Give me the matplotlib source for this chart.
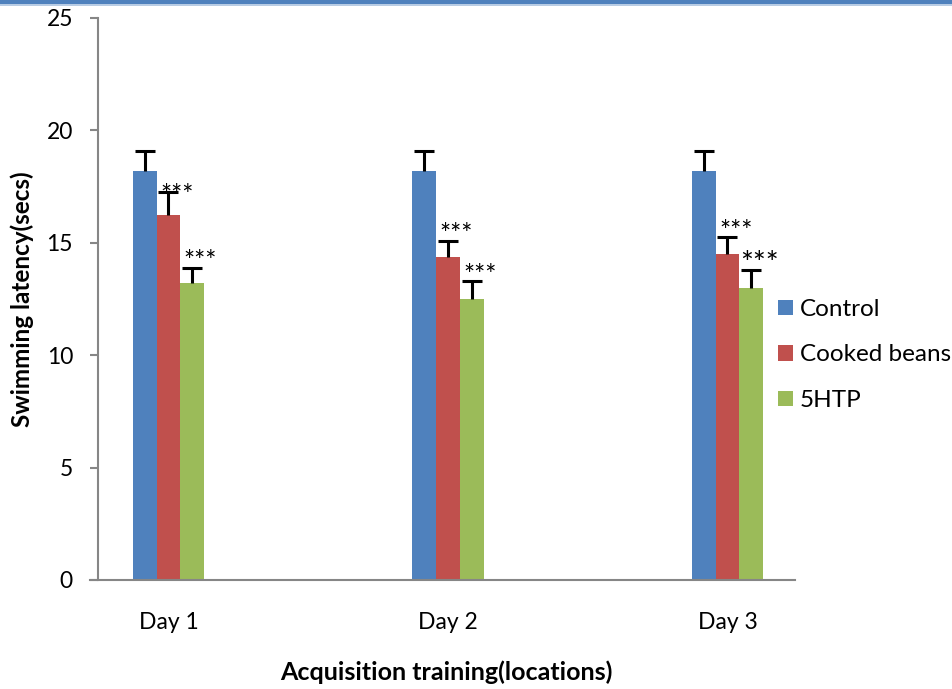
import numpy as np
import matplotlib.pyplot as plt
from matplotlib.patches import Rectangle

plt.rcParams['font.family'] = ['Lato', 'DejaVu Sans']

# Swimming latency per training day
days = ['Day 1', 'Day 2', 'Day 3']
groups = ['Control', 'Cooked beans', '5HTP']
latency = {
    'Control':      [18.2, 18.2, 18.2],
    'Cooked beans': [16.25, 14.35, 14.5],
    '5HTP':         [13.2, 12.5, 13.0],
}
sem = {
    'Control':      [0.9, 0.9, 0.9],
    'Cooked beans': [1.0, 0.75, 0.75],
    '5HTP':         [0.7, 0.8, 0.8],
}
signif = {
    'Control':      ['', '', ''],
    'Cooked beans': ['***', '***', '***'],
    '5HTP':         ['***', '***', '***'],
}
colors = ['#4F81BD', '#C0504D', '#9BBB59']
axis_grey = '#868686'

W, H = 953, 689
fig = plt.figure(figsize=(W / 100, H / 100), dpi=100)
ax = fig.add_axes([98 / W, 109 / H, 697 / W, 562 / H])

x = np.arange(len(days))
bw = 0.085
for i, g in enumerate(groups):
    xs = x + (i - 1) * bw
    vals = np.array(latency[g])
    errs = np.array(sem[g])
    ax.bar(xs, vals, bw, color=colors[i], label=g, zorder=2)
    _, caps, _ = ax.errorbar(xs, vals, yerr=[np.zeros_like(errs), errs],
                             fmt='none', ecolor='black', elinewidth=2.2,
                             capsize=7.5, capthick=2.2, zorder=3)
    caps[0].set_visible(False)  # plus-only error bars
    for j, (xi, v, e, s) in enumerate(zip(xs, vals, errs, signif[g])):
        if not s:
            continue
        # day-1 cooked beans label sits close to its cap
        dy = -12 if (g == 'Cooked beans' and j == 0) else -5.5
        fs = 19
        if g == '5HTP' and j == 2:
            fs, dy = 22, -6
        ax.annotate(s, (xi, v + e), xytext=(6, dy), textcoords='offset points',
                    ha='center', va='bottom', fontsize=fs, color='black',
                    zorder=4)

ax.set_xlim(-0.252, 2.2415)
ax.set_ylim(0, 25)
ax.set_yticks([0, 5, 10, 15, 20, 25])
ax.set_xticks(x)
ax.set_xticklabels(days)
ax.tick_params(axis='x', length=0, pad=23, labelsize=16.5)
ax.tick_params(axis='y', length=6, width=1.5, color=axis_grey, pad=12,
               labelsize=16.5)
for side in ['top', 'right']:
    ax.spines[side].set_visible(False)
for side in ['left', 'bottom']:
    ax.spines[side].set_color(axis_grey)
    ax.spines[side].set_linewidth(1.5)
ax.spines['bottom'].set_bounds(-0.28, 2.2415)

ax.set_ylabel('Swimming latency(secs)', fontsize=17.5, fontweight='bold',
              labelpad=9)
ax.set_xlabel('Acquisition training(locations)', fontsize=18,
              fontweight='bold', labelpad=20)

ax.legend(loc='center left', bbox_to_anchor=(778 / W, 1 - 355 / H),
          bbox_transform=fig.transFigure, frameon=False, fontsize=17.5,
          handlelength=0.6, handleheight=0.6, handletextpad=0.3,
          labelspacing=1.0, borderpad=0, borderaxespad=0)

# blue rule along the top edge
fig.add_artist(Rectangle((0, 1 - 4 / H), 1, 4 / H, transform=fig.transFigure,
                         color='#4F81BD', lw=0))
fig.add_artist(Rectangle((0, 1 - 6 / H), 1, 2 / H, transform=fig.transFigure,
                         color='#B8CCE4', lw=0))

fig.savefig('out.png', dpi=100)
